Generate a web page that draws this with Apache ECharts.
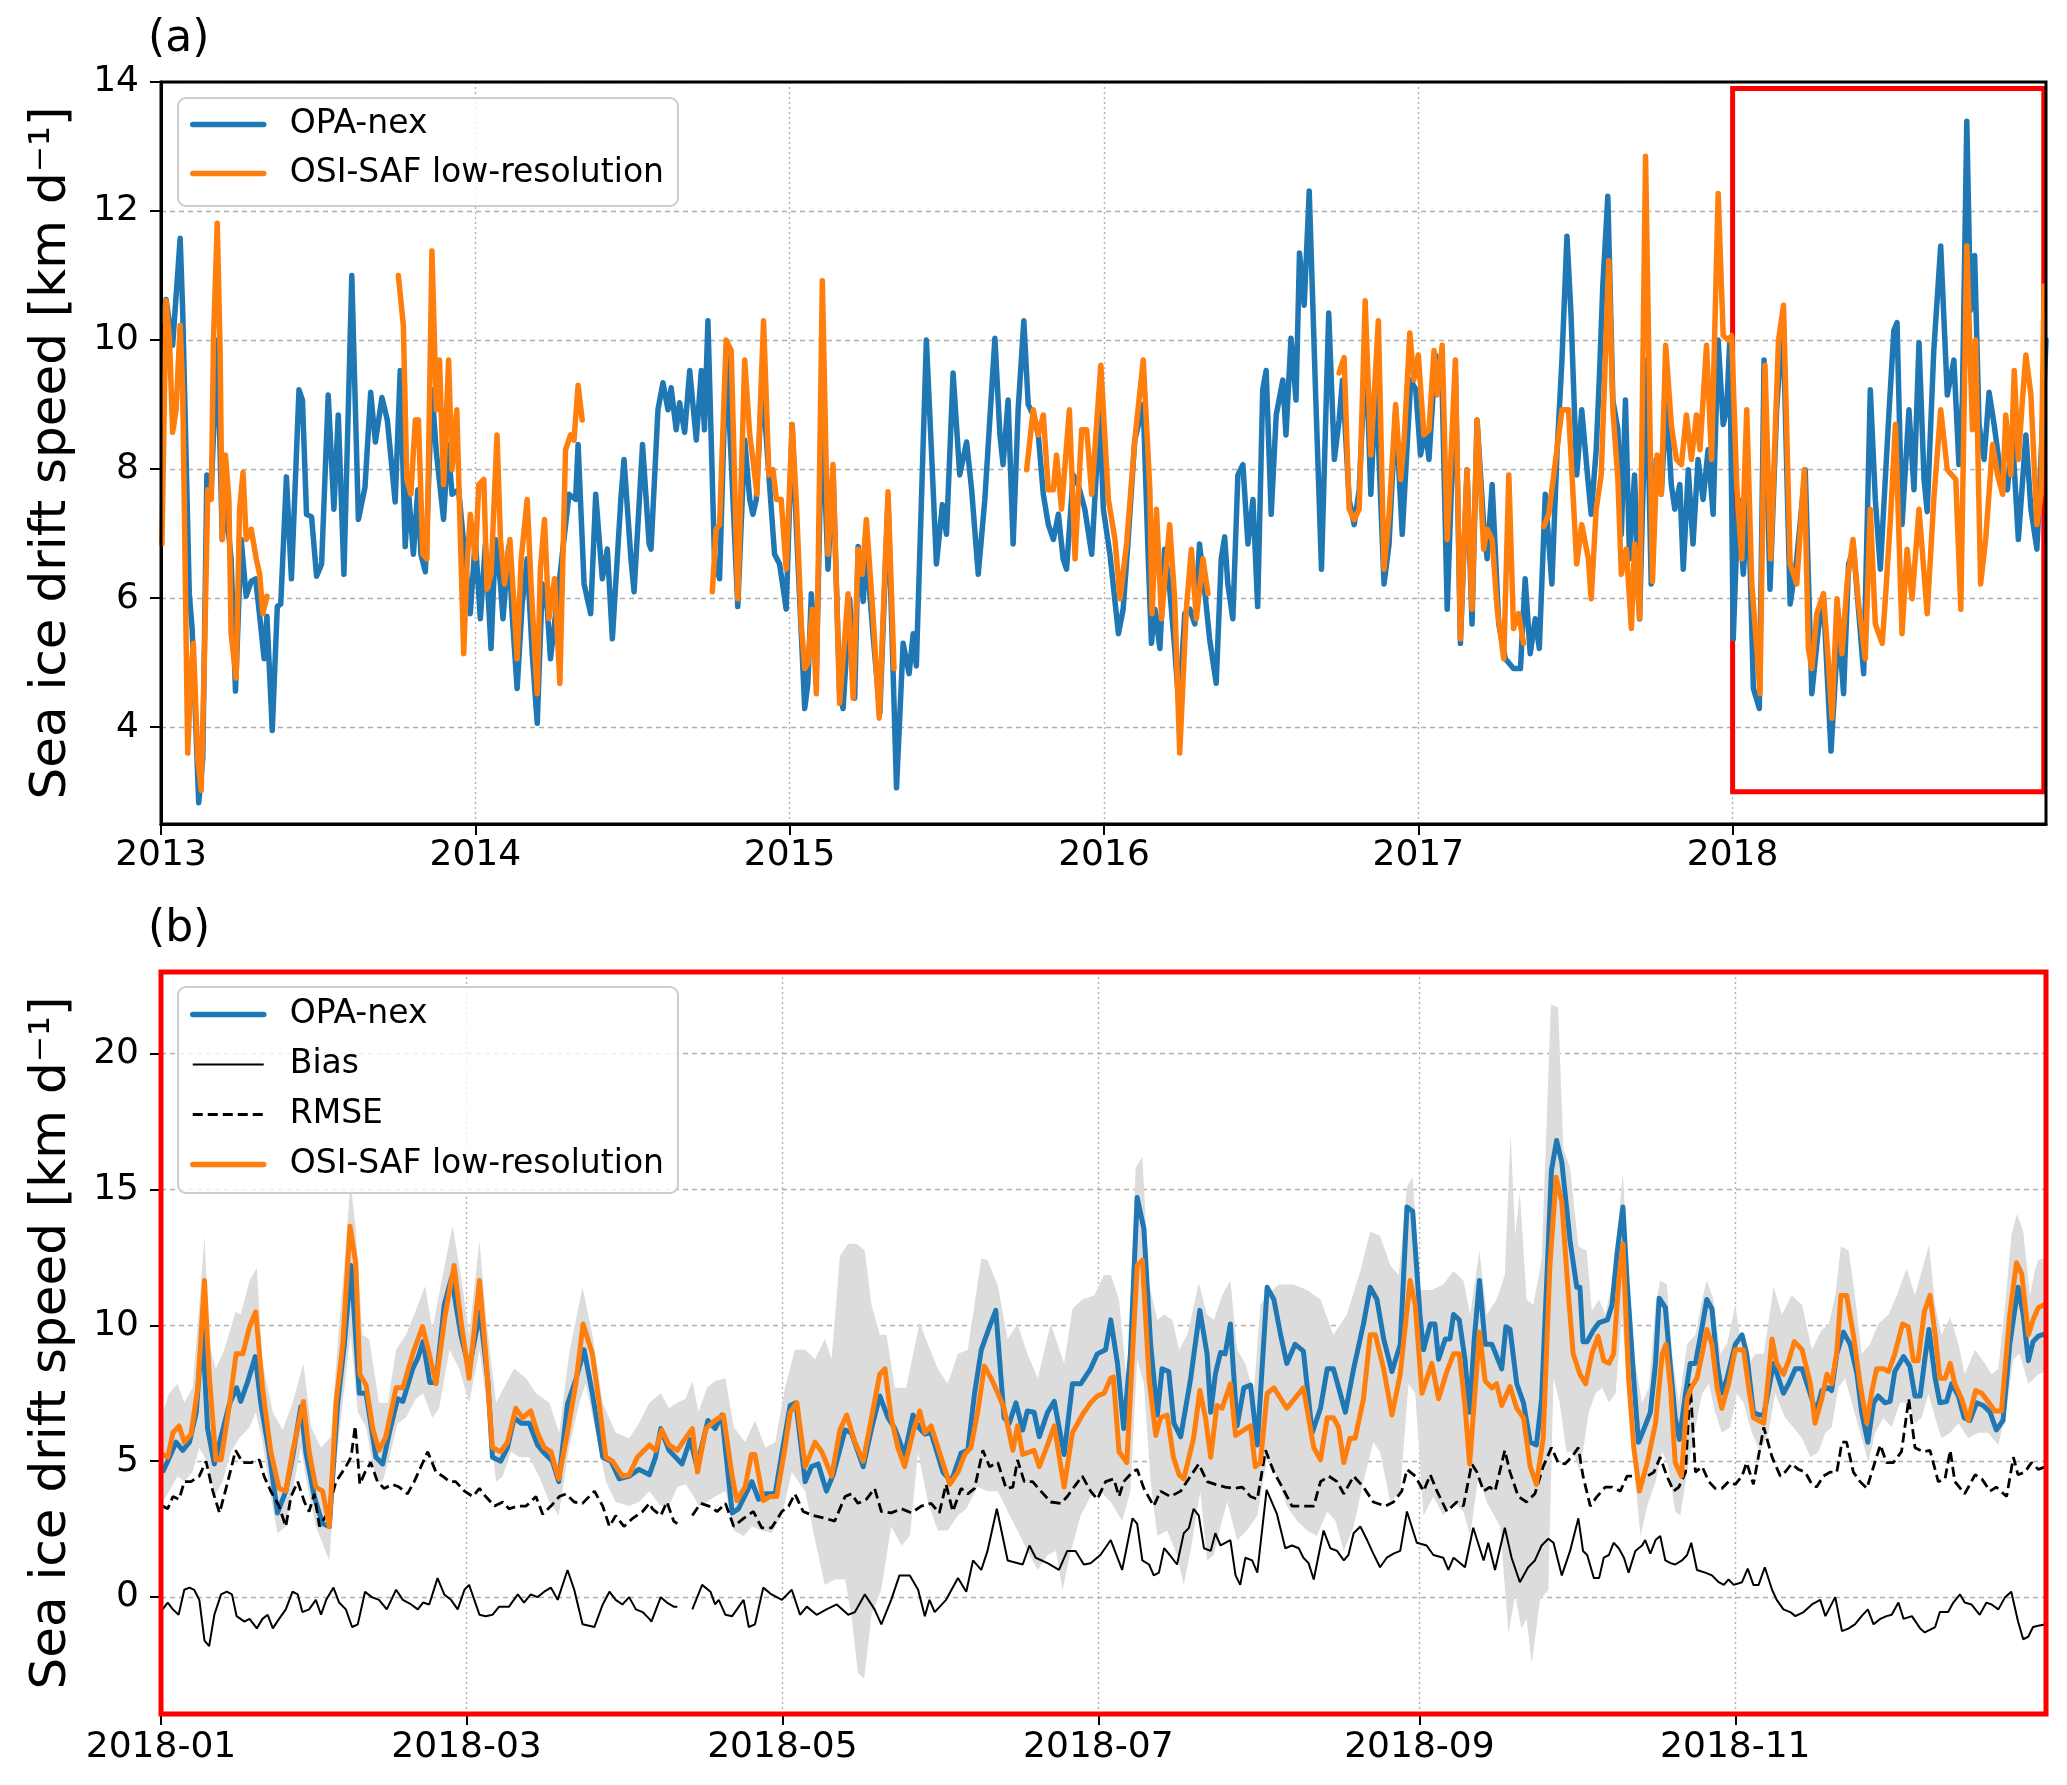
<!DOCTYPE html>
<html>
<head>
<meta charset="utf-8">
<script src="https://cdn.jsdelivr.net/npm/echarts@6/dist/echarts.min.js"></script>
<style>
  html, body { margin: 0; padding: 0; background: #fff; }
  #chart { width: 2067px; height: 1785px; }
</style>
</head>
<body>
<div id="chart"></div>
<script>
// ---------- panel (a): 2013-2018, x = decimal year ----------
const yearTicks = [2013, 2014, 2015, 2016, 2017, 2018];
const speedTicksA = [4, 6, 8, 10, 12, 14];

// OPA-nex, smoothed (a)
const opaA = [
  [2013.005,10.3],[2013.016,10.63],[2013.037,9.92],[2013.061,11.58],[2013.069,10.46],[2013.090,6.07],[2013.099,5.53],[2013.120,2.83],[2013.133,3.52],[2013.146,7.91],
  [2013.160,7.68],[2013.179,10.0],[2013.195,6.91],[2013.205,7.53],[2013.223,6.61],[2013.237,4.56],[2013.255,6.91],[2013.271,6.03],[2013.287,6.26],[2013.301,6.30],
  [2013.314,5.72],[2013.328,5.06],[2013.337,5.72],[2013.354,3.95],[2013.370,5.87],[2013.381,5.91],[2013.399,7.88],[2013.415,6.30],[2013.439,9.23],[2013.450,9.07],
  [2013.463,7.30],[2013.479,7.26],[2013.495,6.34],[2013.511,6.53],[2013.532,9.15],[2013.550,7.38],[2013.564,8.84],[2013.582,6.37],[2013.607,11.0],[2013.628,7.22],
  [2013.649,7.72],[2013.667,9.19],[2013.682,8.42],[2013.703,9.11],[2013.720,8.76],[2013.745,7.49],[2013.761,9.53],[2013.777,6.80],[2013.787,7.68],[2013.803,6.68],
  [2013.817,7.68],[2013.827,6.68],[2013.841,6.41],[2013.862,9.23],[2013.876,8.26],[2013.899,7.22],[2013.913,8.38],[2013.926,7.61],[2013.947,7.68],[2013.984,5.76],
  [2014.000,6.91],[2014.016,5.68],[2014.032,6.84],[2014.050,5.22],[2014.064,6.91],[2014.080,6.22],[2014.088,5.68],[2014.106,6.80],[2014.117,5.76],[2014.133,4.60],
  [2014.149,5.91],[2014.165,6.61],[2014.181,5.14],[2014.197,4.06],[2014.213,6.22],[2014.229,5.83],[2014.239,5.06],[2014.261,5.99],[2014.298,7.61],[2014.319,7.53],
  [2014.327,8.38],[2014.346,6.22],[2014.367,5.76],[2014.383,7.61],[2014.404,6.30],[2014.420,6.76],[2014.436,5.37],[2014.463,7.53],[2014.473,8.15],[2014.495,6.61],
  [2014.505,6.10],[2014.532,8.38],[2014.553,6.84],[2014.559,6.76],[2014.581,8.92],[2014.597,9.34],[2014.613,8.92],[2014.623,9.26],[2014.639,8.61],[2014.650,9.03],
  [2014.666,8.57],[2014.682,9.53],[2014.703,8.45],[2014.719,9.53],[2014.729,8.61],[2014.740,10.30],[2014.761,6.61],[2014.777,6.30],[2014.798,9.77],[2014.814,8.15],
  [2014.835,5.87],[2014.857,8.45],[2014.873,7.53],[2014.883,7.30],[2014.894,7.53],[2014.913,9.38],[2014.936,7.76],[2014.952,6.68],[2014.968,6.53],[2014.989,5.83],
  [2015.008,8.69],[2015.021,7.14],[2015.037,5.45],[2015.048,4.29],[2015.058,4.68],[2015.069,6.07],[2015.085,4.83],[2015.103,8.92],[2015.122,6.45],[2015.138,7.99],
  [2015.159,4.52],[2015.170,4.29],[2015.191,5.99],[2015.207,4.45],[2015.218,6.80],[2015.234,5.95],[2015.244,6.76],[2015.265,5.45],[2015.287,4.22],[2015.313,7.53],
  [2015.340,3.06],[2015.361,5.30],[2015.380,4.83],[2015.393,5.45],[2015.403,4.95],[2015.435,10.0],[2015.451,8.30],[2015.467,6.53],[2015.486,7.45],[2015.499,6.99],
  [2015.520,9.49],[2015.541,7.91],[2015.563,8.42],[2015.579,7.68],[2015.600,6.37],[2015.621,7.53],[2015.653,10.03],[2015.669,8.53],[2015.679,8.07],[2015.695,9.07],
  [2015.711,6.84],[2015.727,8.92],[2015.745,10.30],[2015.759,9.0],[2015.775,8.84],[2015.791,8.53],[2015.807,7.61],[2015.823,7.14],[2015.839,6.91],[2015.855,7.30],
  [2015.870,6.61],[2015.881,6.45],[2015.902,7.91],[2015.918,7.76],[2015.939,7.38],[2015.961,6.68],[2015.987,8.92],[2015.998,7.38],[2016.019,6.68],[2016.046,5.45],
  [2016.061,5.83],[2016.077,6.91],[2016.098,8.45],[2016.125,9.0],[2016.141,6.61],[2016.151,5.30],[2016.162,5.83],[2016.178,5.22],[2016.193,6.76],[2016.209,6.14],
  [2016.225,5.22],[2016.239,4.29],[2016.257,5.76],[2016.273,5.83],[2016.289,5.60],[2016.304,6.84],[2016.320,6.14],[2016.336,5.37],[2016.357,4.68],[2016.373,6.61],
  [2016.384,6.95],[2016.394,6.22],[2016.410,5.68],[2016.426,7.91],[2016.442,8.07],[2016.458,6.84],[2016.474,7.53],[2016.489,5.87],[2016.505,9.23],[2016.516,9.53],
  [2016.532,7.30],[2016.548,8.84],[2016.569,9.38],[2016.579,8.53],[2016.595,10.03],[2016.611,9.07],[2016.622,11.35],[2016.637,10.54],[2016.653,12.31],[2016.674,9.07],
  [2016.692,6.45],[2016.715,10.42],[2016.733,8.15],[2016.748,8.76],[2016.759,9.38],[2016.780,7.53],[2016.796,7.14],[2016.812,7.68],[2016.833,9.92],[2016.849,7.61],
  [2016.865,9.38],[2016.891,6.22],[2016.907,6.84],[2016.928,8.92],[2016.949,6.99],[2016.976,9.38],[2016.992,9.23],[2017.007,8.22],[2017.023,8.61],[2017.034,8.15],
  [2017.055,9.77],[2017.076,9.23],[2017.092,5.83],[2017.118,9.53],[2017.134,5.30],[2017.155,7.99],[2017.171,5.60],[2017.187,8.76],[2017.208,7.14],[2017.219,6.61],
  [2017.235,7.76],[2017.256,5.60],[2017.277,5.06],[2017.303,4.91],[2017.325,4.91],[2017.340,6.30],[2017.356,5.14],[2017.372,5.68],[2017.385,5.22],[2017.404,7.61],
  [2017.425,6.22],[2017.441,8.22],[2017.457,9.69],[2017.473,11.61],[2017.486,10.38],[2017.504,7.91],[2017.520,8.92],[2017.541,7.76],[2017.550,7.30],[2017.566,8.30],
  [2017.577,9.53],[2017.587,10.84],[2017.603,12.23],[2017.619,9.07],[2017.635,8.61],[2017.646,6.99],[2017.659,9.07],[2017.672,6.61],[2017.688,7.91],[2017.704,5.68],
  [2017.726,9.69],[2017.741,6.22],[2017.757,8.15],[2017.773,7.61],[2017.789,9.07],[2017.805,7.76],[2017.816,7.38],[2017.832,7.76],[2017.843,6.45],[2017.859,7.99],
  [2017.874,6.84],[2017.890,8.15],[2017.906,7.53],[2017.922,8.30],[2017.938,7.30],[2017.954,10.0],[2017.970,8.69],[2017.981,8.92],[2017.991,10.0],[2018.002,5.37],
  [2018.018,7.53],[2018.034,6.37],[2018.050,7.53],[2018.066,4.60],[2018.085,4.29],[2018.100,9.69],[2018.119,6.14],[2018.140,8.92],[2018.160,10.38],[2018.183,5.91],
  [2018.204,6.61],[2018.231,7.99],[2018.252,4.52],[2018.273,5.53],[2018.289,5.99],[2018.313,3.63],[2018.337,5.60],[2018.353,4.52],[2018.369,6.53],[2018.385,6.76],
  [2018.417,4.83],[2018.438,9.23],[2018.454,7.53],[2018.470,6.45],[2018.497,8.84],[2018.513,10.15],[2018.523,10.27],[2018.539,7.14],[2018.561,8.92],[2018.577,7.68],
  [2018.593,9.96],[2018.609,7.84],[2018.619,7.34],[2018.640,9.84],[2018.662,11.46],[2018.683,9.15],[2018.704,9.69],[2018.720,8.07],[2018.731,9.07],[2018.745,13.39],
  [2018.757,10.46],[2018.770,11.31],[2018.784,8.69],[2018.800,8.15],[2018.816,9.19],[2018.832,8.69],[2018.853,7.91],[2018.874,7.68],[2018.890,8.53],[2018.909,6.91],
  [2018.933,8.53],[2018.949,7.38],[2018.968,6.76],[2018.981,8.15],[2018.997,10.0]
];

// OSI-SAF low-resolution, smoothed (a); null = no observations
const osiA = [
  [2013.003,6.84],[2013.016,10.61],[2013.027,10.0],[2013.037,8.57],[2013.048,8.92],[2013.061,10.23],[2013.069,9.23],[2013.085,3.60],[2013.096,4.91],[2013.103,5.30],
  [2013.117,3.52],[2013.128,3.02],[2013.138,5.06],[2013.149,7.68],[2013.160,7.53],[2013.167,10.0],[2013.179,11.81],[2013.188,9.84],[2013.195,6.91],[2013.205,8.22],
  [2013.216,7.53],[2013.223,5.45],[2013.239,4.76],[2013.250,7.38],[2013.261,7.95],[2013.271,6.91],[2013.287,7.07],[2013.303,6.61],[2013.314,6.37],[2013.324,5.76],
  [2013.337,6.03],[2013.5,null],
  [2013.755,11.0],[2013.771,10.23],[2013.782,7.84],[2013.795,7.61],[2013.809,8.76],[2013.819,8.76],[2013.833,6.68],[2013.846,6.61],[2013.862,11.38],[2013.876,8.92],
  [2013.886,9.69],[2013.899,7.76],[2013.915,9.69],[2013.926,7.99],[2013.941,8.92],[2013.963,5.14],[2013.973,6.45],[2013.984,7.30],[2014.000,6.61],[2014.011,7.76],
  [2014.027,7.84],[2014.037,6.14],[2014.050,6.37],[2014.069,8.53],[2014.080,6.91],[2014.093,6.22],[2014.110,6.91],[2014.122,5.99],[2014.133,5.06],[2014.146,6.61],
  [2014.165,7.53],[2014.178,6.14],[2014.197,4.52],[2014.207,6.45],[2014.220,7.22],[2014.234,5.68],[2014.252,6.30],[2014.269,4.68],[2014.287,8.30],[2014.303,8.53],
  [2014.314,8.45],[2014.327,9.30],[2014.340,8.76],[2014.5,null],
  [2014.754,6.10],[2014.766,7.07],[2014.777,7.14],[2014.798,10.0],[2014.814,9.84],[2014.835,5.99],[2014.857,9.69],[2014.873,8.53],[2014.883,8.15],[2014.896,7.61],
  [2014.917,10.30],[2014.934,7.91],[2014.947,7.99],[2014.958,7.53],[2014.973,7.53],[2014.989,6.45],[2015.008,8.69],[2015.021,7.53],[2015.037,5.60],[2015.048,4.91],
  [2015.058,4.99],[2015.072,5.83],[2015.085,4.52],[2015.104,10.92],[2015.122,6.68],[2015.138,8.07],[2015.159,4.37],[2015.186,6.07],[2015.202,4.45],[2015.218,6.76],
  [2015.231,6.37],[2015.244,7.22],[2015.265,5.76],[2015.285,4.14],[2015.313,7.65],[2015.332,4.91],[2015.5,null],
  [2015.754,7.99],[2015.775,8.92],[2015.791,8.53],[2015.807,8.84],[2015.823,7.68],[2015.839,7.68],[2015.849,8.22],[2015.865,7.38],[2015.890,8.92],[2015.908,6.61],
  [2015.929,8.61],[2015.945,8.61],[2015.961,7.61],[2015.990,9.61],[2016.014,7.53],[2016.035,6.91],[2016.051,5.99],[2016.072,6.84],[2016.098,8.45],[2016.125,9.69],
  [2016.146,7.68],[2016.153,5.76],[2016.167,7.38],[2016.183,5.68],[2016.209,7.14],[2016.225,5.99],[2016.241,3.60],[2016.262,5.83],[2016.278,6.76],[2016.294,5.68],
  [2016.315,6.61],[2016.331,6.07],[2016.5,null],
  [2016.748,9.49],[2016.764,9.73],[2016.780,7.38],[2016.796,7.22],[2016.812,7.38],[2016.831,10.61],[2016.849,8.22],[2016.873,10.30],[2016.891,6.45],[2016.907,7.30],
  [2016.928,9.0],[2016.944,7.84],[2016.955,8.45],[2016.973,10.11],[2016.986,9.38],[2017.000,9.77],[2017.018,8.53],[2017.034,8.61],[2017.050,9.84],[2017.060,9.15],
  [2017.076,9.92],[2017.092,6.91],[2017.118,9.69],[2017.134,5.37],[2017.155,7.99],[2017.171,5.83],[2017.187,8.76],[2017.208,6.76],[2017.219,7.07],[2017.235,6.91],
  [2017.251,5.83],[2017.272,5.06],[2017.288,7.91],[2017.303,5.53],[2017.319,5.76],[2017.335,5.30],[2017.36,null],
  [2017.399,7.11],[2017.415,7.30],[2017.457,8.92],[2017.478,8.92],[2017.504,6.53],[2017.520,7.14],[2017.541,6.61],[2017.550,5.99],[2017.566,7.38],[2017.582,7.91],
  [2017.606,11.23],[2017.619,8.92],[2017.635,7.84],[2017.646,6.37],[2017.662,6.76],[2017.678,5.53],[2017.688,6.84],[2017.704,5.68],[2017.723,12.85],[2017.745,6.26],
  [2017.760,8.22],[2017.773,7.61],[2017.787,9.92],[2017.805,8.69],[2017.821,8.15],[2017.837,8.07],[2017.853,8.84],[2017.869,8.15],[2017.885,8.84],[2017.896,8.30],
  [2017.917,9.92],[2017.933,8.15],[2017.954,12.27],[2017.970,10.07],[2017.986,10.0],[2017.997,10.07],[2018.013,7.76],[2018.029,6.61],[2018.045,8.92],[2018.061,6.22],
  [2018.077,5.22],[2018.087,4.52],[2018.103,9.61],[2018.121,6.61],[2018.146,10.0],[2018.162,10.54],[2018.183,6.53],[2018.204,6.22],[2018.228,7.99],[2018.241,5.22],
  [2018.252,4.91],[2018.268,5.76],[2018.289,6.07],[2018.305,4.99],[2018.316,4.14],[2018.332,5.99],[2018.348,5.14],[2018.364,6.22],[2018.383,6.91],[2018.399,5.99],
  [2018.422,5.06],[2018.438,7.38],[2018.454,5.60],[2018.476,5.30],[2018.486,5.99],[2018.502,7.22],[2018.518,8.69],[2018.539,5.45],[2018.555,6.76],[2018.571,5.99],
  [2018.593,7.38],[2018.619,5.76],[2018.640,7.53],[2018.662,8.92],[2018.683,7.99],[2018.710,7.84],[2018.726,5.83],[2018.745,11.46],[2018.763,8.61],[2018.773,10.0],
  [2018.789,6.22],[2018.805,6.91],[2018.827,8.38],[2018.843,7.91],[2018.859,7.61],[2018.869,8.84],[2018.885,7.91],[2018.896,9.53],[2018.909,8.15],[2018.922,9.07],
  [2018.933,9.77],[2018.949,9.15],[2018.968,7.14],[2018.981,7.61],[2018.991,10.84]
];

// zoomed window of panel (b), outlined in (a)
const zoomYears = [2018.0, 2018.99];
const zoomSpeeds = [3.0, 13.9];

// ---------- panel (b): 2018, x = day of year (0 = 1 Jan) ----------
const monthTickDays = [0, 59, 120, 181, 243, 304];
const monthTickLabels = ['2018-01', '2018-03', '2018-05', '2018-07', '2018-09', '2018-11'];
const speedTicksB = [0, 5, 10, 15, 20];

const opaB = [
  [0.3,4.6],[1.3,5.0],[2.9,5.7],[4.2,5.4],[5.5,5.7],[6.8,6.8],[8.0,9.85],[9.0,6.2],[10.3,4.9],[11.6,5.9],[13.2,7.1],[14.6,7.7],[15.4,7.2],[16.7,7.9],[18.2,8.85],
  [19.3,7.1],[20.9,5.3],[22.5,3.1],[24.1,3.9],[25.4,5.15],[27.0,7.0],[28.0,5.3],[29.6,3.7],[31.2,2.7],[32.5,2.6],[34.1,7.1],[35.4,9.3],[36.7,12.2],[38.3,7.5],
  [39.6,7.5],[41.5,5.15],[42.8,4.9],[44.1,6.05],[45.7,7.3],[46.7,7.2],[48.6,8.4],[49.6,8.8],[50.6,9.4],[51.9,7.9],[53.1,7.9],[54.7,10.75],[56.1,11.75],[57.9,9.65],
  [59.5,8.4],[61.6,10.5],[63.1,8.0],[64.0,5.15],[65.6,5.0],[66.9,5.5],[68.2,6.6],[69.5,6.4],[71.1,6.4],[72.7,5.6],[74.0,5.3],[75.6,5.0],[76.8,4.25],[78.5,7.1],
  [80.1,8.0],[81.7,9.1],[83.3,7.5],[85.3,5.15],[86.9,5.0],[88.5,4.35],[90.4,4.45],[92.3,4.7],[94.3,4.5],[95.5,5.15],[96.5,6.2],[98.1,5.4],[100.6,4.9],[102.2,5.8],
  [103.5,4.8],[105.6,6.5],[107.0,6.2],[108.3,6.7],[110.3,3.1],[111.5,3.25],[114.1,4.25],[115.4,3.6],[116.7,3.8],[118.6,3.8],[119.9,5.3],[121.5,7.05],[122.6,7.15],
  [124.4,4.25],[125.6,4.8],[126.9,4.9],[128.5,3.9],[129.8,4.5],[132.1,6.15],[133.3,6.05],[135.6,4.8],[137.2,6.2],[138.8,7.4],[140.4,6.6],[141.7,6.2],[143.6,5.25],
  [145.2,6.7],[146.5,6.2],[147.5,6.0],[148.7,6.05],[151.0,4.6],[152.6,4.25],[154.5,5.3],[155.8,5.4],[157.1,7.5],[158.4,9.1],[160.0,9.95],[161.2,10.55],[162.8,6.6],
  [163.8,6.4],[165.1,7.15],[166.4,6.15],[167.3,6.85],[168.6,6.8],[169.6,5.9],[171.2,6.8],[172.5,7.2],[174.4,5.25],[176.0,7.85],[177.6,7.85],[179.5,8.4],[180.8,8.95],
  [182.4,9.1],[183.4,10.2],[184.7,8.6],[185.9,6.2],[187.2,8.95],[188.5,14.7],[189.8,13.55],[191.1,9.3],[192.4,6.7],[193.3,8.4],[194.6,8.3],[195.6,6.4],[196.9,5.9],
  [198.8,8.0],[200.6,10.55],[202.0,8.95],[202.7,6.8],[203.6,8.2],[204.6,9.0],[205.5,8.95],[206.5,10.05],[207.8,6.3],[209.1,7.7],[210.4,7.8],[211.7,5.6],[213.6,11.4],
  [214.9,10.95],[216.2,9.65],[217.4,8.6],[219.0,9.3],[220.6,9.05],[222.3,6.05],[223.9,6.95],[225.2,8.4],[226.4,8.4],[227.7,7.5],[228.7,6.8],[230.3,8.4],[232.2,10.05],
  [233.5,11.4],[234.8,10.95],[236.1,9.5],[237.7,8.3],[239.3,9.3],[240.6,14.35],[241.7,14.2],[243.1,10.4],[243.8,9.1],[245.1,10.05],[246.0,10.05],[246.7,8.75],
  [248.0,9.5],[248.9,9.5],[249.6,10.4],[250.7,10.2],[251.8,8.75],[252.7,6.8],[253.6,9.5],[254.6,11.65],[255.7,9.3],[257.0,9.3],[258.9,8.4],[259.7,9.95],[260.5,9.85],
  [261.8,7.85],[263.1,7.15],[264.4,5.7],[265.6,5.6],[266.6,7.3],[267.6,11.65],[268.5,15.7],[269.5,16.8],[270.5,16.0],[272.1,13.1],[273.4,11.4],[274.0,11.4],
  [274.6,9.4],[275.4,9.4],[276.7,9.85],[277.7,10.1],[279.3,10.2],[280.2,10.75],[281.2,12.7],[282.3,14.35],[283.1,11.65],[284.4,8.0],[285.3,5.7],[286.6,6.3],
  [287.6,6.8],[288.6,8.6],[289.3,11.0],[290.5,10.65],[291.5,8.4],[292.4,6.6],[293.2,5.8],[294.4,7.5],[295.3,8.6],[296.3,8.6],[297.6,9.95],[298.5,10.95],[299.5,10.6],
  [300.5,8.6],[301.4,7.5],[302.4,8.05],[304.0,9.3],[305.3,9.65],[306.2,8.95],[307.5,6.8],[308.6,6.7],[309.5,6.7],[311.4,8.6],[313.3,7.5],[314.3,7.85],[315.6,8.4],
  [316.9,8.4],[318.1,7.7],[319.6,6.8],[320.7,7.6],[321.9,7.7],[322.6,7.6],[323.6,8.95],[324.9,9.75],[326.2,9.3],[327.5,8.2],[328.4,6.8],[329.6,5.7],[330.7,7.15],
  [331.6,7.4],[332.9,7.15],[333.9,7.2],[334.8,8.3],[336.5,8.85],[337.7,8.5],[338.7,7.4],[339.7,7.4],[340.6,8.75],[341.4,9.85],[342.6,8.05],[343.5,7.15],[344.8,7.2],
  [345.8,7.85],[347.1,7.4],[348.2,6.6],[349.3,6.5],[350.6,7.15],[351.9,7.05],[353.2,6.8],[354.4,6.15],[355.7,6.5],[357.0,9.3],[358.6,11.4],[359.6,10.4],[360.6,8.7],
  [361.5,9.4],[362.5,9.6],[364,9.7]
];

const osiB = [
  [0.3,5.25],[1.3,5.15],[2.3,6.05],[3.5,6.3],[4.5,5.7],[5.8,6.0],[7.1,7.7],[8.4,11.65],[9.3,8.2],[10.6,5.05],[11.6,5.05],[13.2,7.05],[14.5,8.95],[15.8,8.95],
  [17.1,9.95],[18.3,10.5],[19.6,7.7],[21.2,5.35],[22.8,4.0],[24.1,3.9],[25.4,5.35],[27.5,7.2],[28.6,5.35],[29.9,4.05],[31.2,3.9],[32.5,2.6],[33.8,7.15],[35.1,9.3],
  [36.5,13.65],[37.6,12.3],[38.4,8.2],[39.6,7.8],[40.9,6.2],[42.1,5.4],[43.4,5.9],[45.4,7.7],[46.7,7.7],[48.6,8.95],[50.5,9.95],[51.8,8.95],[53.1,7.85],[54.9,10.4],
  [56.6,12.2],[57.9,10.2],[59.5,8.05],[61.5,11.65],[62.7,8.95],[64.0,5.5],[65.6,5.35],[66.9,5.7],[68.5,6.95],[69.8,6.6],[71.4,6.85],[72.7,6.05],[74.0,5.5],
  [75.3,5.35],[76.8,4.35],[78.5,6.05],[80.1,7.85],[81.5,10.05],[83.3,8.95],[84.6,7.15],[85.9,5.15],[87.2,5.0],[89.1,4.45],[90.4,4.5],[92.0,5.15],[94.3,5.6],
  [95.5,5.4],[96.7,6.15],[98.1,5.6],[99.7,5.4],[101.3,5.85],[102.6,6.2],[103.6,4.6],[105.2,6.2],[107.0,6.5],[108.6,6.7],[110.3,4.45],[111.2,3.55],[112.8,4.05],
  [114.0,5.25],[114.7,5.25],[116.3,3.55],[117.6,3.7],[118.9,3.7],[120.5,5.5],[121.5,6.8],[122.8,7.15],[124.4,4.8],[126.3,5.7],[127.6,5.35],[129.5,4.45],[131.1,6.15],
  [132.4,6.7],[134.0,5.7],[135.6,5.0],[137.2,6.6],[138.8,8.2],[139.8,8.4],[141.0,6.6],[142.3,5.5],[143.6,4.8],[145.2,6.05],[146.5,6.85],[147.5,6.05],[148.7,6.3],
  [150.3,5.35],[152.3,4.15],[153.9,4.6],[155.2,5.25],[156.4,5.5],[157.7,6.8],[159.0,8.5],[160.3,8.05],[161.6,7.5],[162.8,6.95],[164.5,5.4],[165.4,6.3],[166.4,5.25],
  [168.6,5.4],[169.6,4.8],[171.2,5.6],[172.5,6.3],[174.4,4.05],[176.0,6.05],[177.9,6.7],[179.5,7.15],[180.8,7.4],[182.1,7.5],[183.4,8.05],[183.9,8.1],[185.0,5.35],
  [186.5,4.95],[188.5,12.2],[189.5,12.4],[190.8,8.05],[192.1,5.95],[193.0,6.6],[194.3,6.7],[195.5,5.15],[196.6,4.5],[197.5,4.35],[199.4,5.85],[200.6,7.6],[201.7,6.6],
  [202.7,5.15],[203.9,7.05],[204.9,6.95],[206.5,7.85],[207.5,5.95],[209.1,6.15],[210.4,6.3],[211.3,4.8],[212.3,4.95],[213.6,7.5],[214.9,7.7],[217.4,6.95],[220.6,7.7],
  [222.6,5.5],[223.9,5.05],[225.2,6.6],[226.4,6.6],[227.4,6.25],[228.4,4.95],[229.6,5.85],[230.6,5.85],[232.2,7.3],[233.5,9.65],[234.5,9.65],[236.1,8.4],[237.7,6.7],
  [239.3,8.2],[241.2,11.65],[242.2,10.75],[243.5,7.5],[245.4,8.6],[246.7,7.3],[248.3,8.3],[249.6,8.95],[250.7,8.95],[251.8,7.05],[252.7,4.9],[254.6,9.75],[255.7,7.95],
  [257.0,7.7],[257.9,7.85],[258.9,7.05],[260.5,7.75],[261.8,6.95],[263.1,6.6],[264.4,4.8],[265.6,4.15],[266.9,5.85],[268.2,12.2],[269.4,15.45],[270.5,14.55],
  [271.7,11.3],[272.7,8.95],[274.0,8.2],[275.1,7.85],[276.3,8.95],[277.5,9.6],[278.6,8.7],[279.6,8.6],[280.5,8.95],[281.5,11.65],[282.3,13.0],[283.4,8.05],[284.4,5.5],
  [285.5,3.9],[287.0,4.95],[288.6,6.4],[289.9,8.95],[290.6,9.3],[291.5,7.7],[292.4,4.95],[293.6,4.45],[294.7,7.3],[295.6,7.75],[296.6,8.05],[297.6,8.95],[298.5,9.85],
  [299.5,9.3],[300.5,7.7],[301.4,6.95],[302.7,7.85],[304.0,9.1],[305.6,9.1],[306.6,7.7],[307.5,6.6],[309.5,6.4],[311.1,9.5],[312.0,8.6],[313.3,8.2],[314.3,8.7],
  [315.4,9.4],[316.9,9.1],[318.5,7.85],[319.4,6.4],[320.7,7.3],[321.7,8.2],[322.6,7.85],[323.6,9.0],[324.4,11.1],[325.5,11.1],[326.8,9.65],[328.1,7.85],[329.4,6.4],
  [330.3,7.5],[331.3,8.4],[332.6,8.4],[333.6,8.3],[334.8,8.95],[336.3,10.05],[337.4,9.95],[338.4,8.7],[339.3,8.7],[340.5,10.5],[341.6,11.1],[342.6,9.65],[343.5,8.05],
  [344.5,8.05],[345.5,8.6],[346.4,7.85],[347.7,7.3],[349.0,6.5],[350.4,7.6],[351.6,7.5],[352.8,7.2],[354.1,6.85],[355.4,6.85],[357.0,10.4],[358.3,12.3],[359.3,11.9],
  [360.6,9.65],[361.5,10.2],[362.5,10.65],[364,10.8]
];

// spread of the OPA-nex ensemble (grey band)
const bandHighB = [
  [0.3,6.8],[1.6,7.5],[3.2,7.85],[4.5,7.15],[6.1,7.7],[7.4,10.75],[8.4,13.3],[9.3,9.3],[10.6,8.4],[12.2,9.1],[14.4,10.5],[15.4,10.4],[17.1,11.65],[18.5,12.1],
  [19.6,8.6],[21.6,6.8],[23.5,6.15],[25.4,7.15],[27.5,8.6],[29.0,6.25],[30.9,5.5],[32.8,5.9],[34.4,10.05],[35.4,12.2],[36.6,15.3],[37.6,13.55],[38.9,9.65],[40.2,9.5],
  [42.1,7.15],[43.8,7.15],[45.4,9.1],[47.3,9.65],[49.2,10.55],[51.0,11.45],[52.4,9.85],[54.4,11.85],[56.3,13.65],[57.9,11.85],[59.5,9.65],[61.5,13.1],[62.7,10.4],
  [64.7,7.15],[66.6,7.85],[68.2,8.4],[70.5,8.05],[72.4,7.5],[75.0,7.15],[76.9,6.05],[78.8,8.95],[81.4,11.4],[83.3,9.65],[85.3,7.15],[87.8,6.05],[90.4,5.85],
  [92.3,6.4],[94.3,7.15],[96.5,7.5],[98.1,6.95],[99.7,7.15],[101.3,7.3],[102.6,7.95],[103.8,6.8],[105.4,7.7],[107.0,7.95],[109.0,8.05],[110.6,6.25],[112.8,5.7],
  [114.7,6.5],[116.7,5.5],[118.6,5.7],[120.5,7.7],[122.4,9.1],[124.4,9.1],[126.3,8.75],[128.2,9.5],[129.5,8.75],[131.1,12.55],[132.7,13.0],[134.3,13.0],[135.9,12.75],
  [137.2,10.75],[138.8,9.65],[140.1,9.65],[141.7,7.7],[143.9,7.7],[146.5,10.1],[148.1,9.3],[150.0,8.4],[151.9,7.85],[153.9,8.95],[155.8,9.1],[158.4,12.45],[159.6,12.4],
  [161.6,11.45],[163.5,9.5],[165.4,10.05],[167.3,8.95],[169.3,8.05],[171.8,10.05],[174.4,8.6],[176.0,10.6],[177.9,10.95],[180.2,11.1],[182.1,11.85],[183.4,11.85],
  [185.0,10.95],[186.6,7.7],[188.2,15.8],[189.5,16.2],[190.8,11.5],[192.4,10.2],[193.7,10.4],[195.3,10.2],[196.6,9.1],[198.2,9.65],[200.4,11.55],[202.0,10.4],
  [203.3,10.2],[204.9,11.1],[206.5,11.65],[207.8,9.1],[209.4,8.6],[211.0,7.5],[212.3,10.75],[213.6,11.1],[215.8,11.5],[218.7,11.5],[221.3,11.3],[223.9,10.95],
  [226.4,9.65],[229.0,10.4],[231.6,12.0],[233.5,13.45],[235.4,13.3],[237.4,12.2],[239.0,11.85],[240.6,15.1],[241.7,15.45],[243.1,11.3],[245.4,11.3],[247.6,11.5],
  [249.6,12.0],[251.5,11.65],[252.8,10.4],[254.6,12.75],[256.0,10.4],[257.9,10.95],[259.5,11.85],[260.6,17.05],[261.5,13.3],[262.4,14.9],[263.7,10.95],[265.0,10.75],
  [266.6,12.4],[268.4,21.8],[269.8,21.7],[270.8,16.5],[272.1,15.8],[273.7,12.9],[275.3,12.75],[276.3,10.55],[277.7,10.95],[278.9,10.4],[280.2,11.5],[281.5,14.0],
  [282.3,15.6],[283.4,11.65],[284.7,8.6],[286.0,7.15],[287.3,7.7],[288.6,10.75],[289.5,11.65],[290.8,11.5],[291.8,8.95],[293.1,7.15],[294.7,9.3],[296.3,9.65],
  [297.6,10.95],[298.5,11.65],[299.8,10.95],[301.1,8.95],[302.4,9.3],[304.0,10.75],[305.3,9.1],[306.6,8.6],[307.9,8.95],[309.5,8.95],[311.4,11.4],[313.0,10.4],
  [314.9,11.1],[316.9,10.75],[318.8,9.1],[320.7,9.85],[322.0,10.0],[323.3,11.1],[324.4,12.9],[325.9,12.75],[327.1,11.1],[328.4,8.95],[330.0,9.3],[331.6,10.05],
  [333.6,10.4],[335.2,11.1],[337.1,12.1],[338.7,11.1],[340.0,12.0],[341.4,12.95],[342.6,10.75],[343.8,9.65],[345.5,10.3],[347.1,9.3],[348.3,8.2],[350.3,9.1],
  [352.2,8.6],[353.5,8.2],[354.8,8.4],[356.1,10.75],[357.3,13.3],[358.4,14.1],[359.6,13.45],[360.9,11.1],[361.8,12.0],[362.5,12.4],[364,12.5]
];

const bandLowB = [
  [0.3,3.5],[1.6,3.9],[3.2,4.45],[4.5,4.25],[6.1,4.6],[7.4,5.5],[9.0,4.95],[10.3,3.7],[11.9,4.25],[13.5,5.35],[15.1,5.85],[17.1,6.25],[18.3,6.8],[19.6,5.7],
  [21.2,3.7],[22.5,2.35],[24.1,2.6],[25.4,3.9],[27.0,5.5],[28.3,4.05],[29.9,2.6],[32.5,1.35],[33.8,4.95],[35.1,7.15],[36.6,9.65],[38.0,6.8],[39.6,6.25],[41.5,4.25],
  [42.8,4.25],[44.1,5.15],[45.7,6.4],[47.3,6.6],[49.2,7.3],[50.6,7.5],[52.4,6.6],[53.7,6.95],[55.7,9.1],[57.6,8.4],[59.5,7.15],[61.5,9.1],[63.1,6.8],[64.7,4.25],
  [66.0,4.45],[67.6,5.35],[69.2,5.15],[71.1,5.15],[73.0,4.45],[75.0,3.5],[76.8,3.0],[78.8,5.5],[80.8,7.15],[82.0,7.85],[84.0,6.05],[85.9,4.25],[87.8,3.5],
  [90.4,3.35],[92.3,3.5],[94.3,3.9],[96.5,3.35],[98.1,3.35],[99.7,4.05],[101.3,4.15],[102.9,3.7],[103.8,3.35],[105.4,3.5],[107.0,3.7],[109.0,3.9],[110.6,2.45],
  [112.5,2.25],[114.1,2.6],[116.0,2.45],[117.9,2.35],[119.9,3.0],[121.8,4.6],[124.4,3.9],[126.3,2.1],[128.2,0.45],[130.1,0.65],[132.1,0.65],[133.3,-0.65],
  [134.6,-2.8],[135.8,-3.0],[137.2,-0.65],[139.1,0.27],[141.0,2.6],[143.0,1.9],[144.6,2.25],[146.2,5.35],[148.1,3.5],[150.0,2.45],[151.9,2.45],[153.9,3.0],
  [155.5,3.25],[157.7,4.05],[159.6,3.9],[161.6,3.9],[163.5,3.15],[165.4,2.45],[167.3,1.7],[169.3,1.0],[171.2,1.55],[172.8,1.7],[174.1,0.27],[175.7,1.7],[177.6,3.0],
  [179.5,3.7],[181.4,3.9],[183.4,3.5],[185.6,2.8],[187.2,3.9],[188.5,8.75],[189.8,7.85],[191.1,4.25],[192.4,2.25],[194.3,2.45],[196.2,1.55],[197.5,0.45],[198.8,1.7],
  [200.7,3.9],[202.0,1.35],[203.3,1.55],[204.6,2.6],[205.9,3.5],[207.8,2.1],[209.7,2.45],[211.7,3.0],[213.6,5.15],[215.5,4.45],[217.4,3.35],[219.4,2.8],[221.3,2.45],
  [223.2,2.25],[225.2,3.15],[226.8,2.8],[228.4,1.7],[230.3,2.6],[232.2,4.25],[234.1,5.7],[235.4,5.35],[237.4,3.5],[239.3,3.9],[240.9,7.85],[242.2,7.5],[243.8,3.0],
  [245.7,3.7],[247.6,3.0],[249.6,3.5],[251.5,3.15],[252.8,2.25],[254.4,4.45],[256.0,3.5],[258.6,2.6],[260.2,-1.35],[261.5,0.1],[262.7,-1.15],[263.7,-0.8],
  [264.7,-2.45],[266.3,-0.1],[267.9,0.27],[268.9,8.05],[270.1,7.15],[271.4,5.35],[272.7,5.35],[274.0,4.6],[275.7,6.8],[277.0,7.5],[278.3,7.7],[279.6,7.15],
  [280.9,7.5],[282.1,10.4],[283.4,7.15],[284.7,4.25],[285.7,2.25],[287.0,3.35],[288.6,4.25],[289.9,5.35],[291.1,4.8],[292.4,3.15],[293.4,3.0],[294.7,4.6],
  [296.3,6.25],[297.6,7.5],[298.9,7.85],[300.1,6.8],[301.4,6.05],[303.0,6.25],[304.3,7.5],[305.6,7.15],[307.2,6.05],[308.8,5.35],[310.4,6.05],[311.7,7.5],
  [313.6,6.6],[315.2,6.25],[316.9,5.85],[318.5,5.15],[320.1,5.35],[321.4,6.05],[322.6,6.25],[323.9,7.7],[325.2,8.05],[326.5,7.15],[328.4,5.85],[329.7,4.95],
  [331.0,6.05],[332.6,6.6],[334.2,6.25],[335.8,7.15],[337.4,7.15],[338.7,6.4],[340.0,6.6],[341.3,7.5],[342.6,6.6],[343.8,5.85],[345.5,6.05],[347.1,6.4],[349.0,5.85],
  [350.9,6.05],[352.8,6.05],[354.8,5.6],[356.4,6.95],[357.7,8.75],[358.9,8.95],[360.6,7.85],[361.8,8.05],[362.5,8.2],[364,8.3]
];

const rmseB = [
  [0.3,3.35],[1.3,3.25],[2.3,3.7],[3.5,3.6],[4.5,4.25],[5.8,4.25],[7.4,4.45],[8.7,5.0],[10.0,3.9],[11.3,3.1],[12.9,4.25],[14.4,5.4],[15.8,4.95],[17.4,4.95],
  [19.0,5.05],[19.9,4.45],[21.2,3.9],[22.8,3.35],[24.1,2.6],[25.1,3.7],[26.4,4.25],[27.7,3.5],[28.6,3.15],[29.6,3.8],[30.6,2.6],[31.9,3.0],[33.8,4.25],[35.7,4.8],
  [36.7,5.15],[37.5,6.3],[38.4,4.15],[39.4,4.6],[40.5,4.95],[41.8,4.25],[43.1,4.0],[44.7,4.15],[46.0,4.05],[47.6,3.8],[48.9,4.25],[50.2,4.8],[51.5,5.35],[53.1,4.6],
  [54.4,4.45],[55.7,4.25],[56.9,4.25],[58.6,3.9],[60.2,3.7],[61.5,4.0],[62.7,3.7],[64.4,3.35],[66.0,3.5],[67.2,3.25],[68.9,3.35],[70.5,3.35],[72.4,3.7],[73.7,3.05],
  [75.3,3.35],[76.9,3.7],[78.2,3.8],[79.8,3.5],[81.4,3.45],[83.7,3.9],[85.3,3.35],[86.6,2.6],[87.8,3.0],[89.4,2.6],[91.1,2.9],[93.0,3.15],[94.3,3.45],[94.9,3.25],
  [96.5,3.0],[97.7,3.5],[99.0,2.8],[99.7,2.7],[101,null],
  [102.6,3.0],[104.2,3.45],[105.8,3.35],[107.4,3.15],[109.0,3.45],[110.6,2.6],[112.5,2.9],[114.4,3.15],[116.0,2.55],[117.9,2.55],[119.9,3.15],[121.2,3.35],
  [122.4,3.8],[124.0,3.15],[126.0,3.0],[128.2,2.9],[130.1,2.8],[132.1,3.7],[133.3,3.8],[134.6,3.45],[136.2,3.6],[137.8,4.0],[139.1,3.15],[141.0,3.1],[143.0,3.25],
  [144.9,3.1],[146.8,3.35],[148.7,3.45],[150.3,3.1],[151.6,4.15],[152.9,3.15],[154.5,4.0],[155.8,3.8],[157.1,4.0],[158.7,5.4],[160.0,4.8],[161.6,4.95],[163.2,4.0],
  [164.5,4.05],[165.4,5.05],[166.7,4.25],[168.3,4.25],[169.9,3.9],[171.8,3.5],[173.8,3.45],[175.0,3.7],[176.3,4.05],[177.9,4.45],[179.5,3.9],[180.8,3.6],[182.4,4.25],
  [184.0,4.35],[185.0,3.7],[185.9,4.25],[187.6,4.6],[188.5,4.7],[189.8,4.0],[191.7,3.35],[193.0,3.9],[194.9,3.7],[196.9,3.9],[198.8,4.45],[200.4,4.9],[202.0,4.25],
  [203.6,4.15],[205.5,4.05],[207.2,4.0],[208.8,4.05],[210.4,3.7],[211.7,3.6],[213.3,5.4],[214.9,4.6],[216.5,4.05],[218.4,3.35],[220.6,3.35],[222.6,3.35],[223.9,4.25],
  [225.5,4.45],[227.1,4.25],[228.4,3.8],[230.3,4.45],[232.2,4.05],[234.1,3.5],[236.4,3.35],[238.0,3.5],[239.6,3.9],[240.6,4.7],[242.2,4.45],[243.8,3.9],[245.1,4.5],
  [246.4,3.9],[248.3,3.15],[250.2,3.5],[251.5,3.35],[253.1,4.9],[254.1,4.6],[255.4,3.9],[256.6,4.05],[257.6,3.9],[259.5,5.4],[260.5,4.6],[262.1,3.7],[263.7,3.5],
  [265.3,3.8],[266.9,4.8],[268.5,5.5],[269.8,4.95],[271.1,4.9],[272.4,5.15],[273.7,5.5],[274.6,4.45],[276.0,3.35],[277.3,3.7],[278.9,4.05],[280.2,4.05],[281.8,3.9],
  [283.1,4.45],[284.4,4.45],[285.7,4.25],[287.0,4.45],[288.3,4.6],[289.5,5.15],[290.8,4.45],[292.1,3.9],[293.1,4.05],[294.4,4.6],[295.3,7.85],[296.3,4.6],[297.6,4.8],
  [298.9,4.25],[300.1,4.0],[301.4,4.0],[302.7,4.25],[304.0,4.15],[305.3,4.45],[306.2,4.95],[307.5,4.15],[309.5,6.25],[311.1,5.15],[312.7,4.45],[313.6,4.6],[314.9,4.9],
  [316.2,4.7],[317.5,4.6],[318.8,4.15],[319.7,4.05],[321.0,4.45],[322.3,4.6],[323.6,4.6],[324.6,5.7],[325.5,5.7],[326.8,4.6],[328.1,4.25],[329.4,4.0],[330.7,4.8],
  [332.0,5.6],[333.2,4.95],[334.5,4.95],[336.1,5.35],[337.5,7.3],[338.7,5.5],[340.3,5.35],[341.6,5.4],[343.2,4.25],[344.5,4.35],[345.5,5.4],[346.4,4.25],[348.3,3.8],
  [350.3,4.5],[351.6,4.35],[353.2,3.9],[354.4,4.05],[356.4,3.7],[357.7,5.15],[358.6,4.5],[359.9,4.6],[361.2,4.95],[362.5,4.7],[364,4.8]
];

const biasB = [
  [0.3,-0.45],[1.3,-0.2],[2.3,-0.45],[3.4,-0.65],[4.5,0.27],[5.5,0.35],[6.4,0.27],[7.4,-0.1],[8.4,-1.6],[9.3,-1.8],[10.3,-0.65],[11.6,0.1],[12.7,0.2],[13.7,0.1],
  [14.6,-0.7],[16.1,-0.9],[17.1,-0.8],[18.5,-1.15],[19.6,-0.8],[20.6,-0.65],[21.6,-1.15],[22.8,-0.8],[24.1,-0.45],[25.4,0.2],[26.4,0.1],[27.3,-0.55],[28.6,-0.45],
  [29.9,-0.1],[30.9,-0.65],[31.9,-0.1],[33.3,0.35],[34.4,-0.2],[35.7,-0.45],[36.9,-1.1],[38.0,-1.0],[39.4,0.2],[40.7,0.0],[42.1,-0.1],[43.6,-0.45],[45.4,0.27],
  [46.7,-0.1],[48.3,-0.27],[49.6,-0.45],[50.6,-0.2],[51.8,-0.27],[53.4,0.7],[54.7,0.1],[56.0,-0.1],[57.3,-0.45],[58.6,0.27],[59.5,0.45],[60.5,-0.1],[61.5,-0.65],
  [62.7,-0.7],[64.0,-0.65],[65.3,-0.35],[67.2,-0.35],[68.9,0.1],[70.1,-0.2],[71.4,0.1],[72.7,0.0],[74.0,0.2],[75.3,0.35],[76.6,-0.1],[78.5,1.0],[79.8,0.27],
  [81.4,-1.0],[83.7,-1.1],[85.3,-0.27],[86.6,0.2],[87.8,-0.1],[89.1,-0.27],[90.4,0.0],[91.7,-0.45],[93.0,-0.55],[94.3,-0.8],[94.7,-0.9],[96.5,0.0],[97.7,-0.2],
  [99.0,-0.35],[99.7,-0.35],[101,null],
  [102.6,-0.45],[104.5,0.45],[106.1,0.2],[107.0,-0.27],[107.7,-0.1],[109.0,-0.65],[110.3,-0.7],[112.5,-0.1],[113.5,-1.1],[114.7,-1.0],[116.3,0.35],[117.9,0.1],
  [119.9,-0.1],[121.8,0.27],[123.4,-0.65],[124.7,-0.35],[126.6,-0.65],[128.5,-0.45],[130.5,-0.27],[132.7,-0.65],[134.0,-0.55],[135.9,0.1],[137.8,-0.45],[139.1,-1.0],
  [141.0,-0.1],[142.6,0.8],[144.6,0.8],[146.2,0.27],[147.5,-0.7],[148.4,-0.1],[149.4,-0.55],[151.6,-0.1],[153.9,0.7],[155.5,0.2],[156.8,1.35],[158.4,1.0],[159.6,1.7],
  [161.4,3.25],[163.5,1.35],[166.4,1.2],[167.7,1.9],[168.9,1.45],[171.2,1.25],[173.4,1.0],[175.0,1.7],[176.6,1.7],[178.2,1.2],[179.5,1.25],[181.4,1.55],[183.4,2.1],
  [185.6,1.0],[187.6,2.9],[188.5,2.7],[189.5,1.35],[190.8,1.2],[191.7,0.8],[192.7,0.9],[193.7,1.8],[194.8,1.55],[196.2,1.2],[197.5,2.35],[198.5,2.55],[199.4,3.25],
  [200.4,3.0],[201.4,1.8],[202.7,1.7],[203.6,2.35],[204.6,1.9],[206.5,2.1],[207.5,0.8],[208.4,0.45],[209.4,1.45],[210.7,1.35],[211.7,0.9],[213.5,3.95],[215.5,3.05],
  [217.1,1.8],[218.4,1.9],[219.7,1.8],[220.6,1.45],[221.6,1.25],[222.6,0.65],[224.5,2.45],[225.8,1.8],[227.1,1.7],[228.4,1.35],[229.3,1.55],[230.3,2.35],[231.6,2.6],
  [232.9,2.1],[234.1,1.6],[235.4,1.1],[236.7,1.45],[238.0,1.6],[239.3,1.7],[240.6,3.15],[242.5,2.0],[244.4,1.9],[245.7,1.55],[247.6,1.45],[248.6,1.0],[249.6,1.45],
  [250.9,1.25],[251.8,1.1],[253.4,2.55],[255.4,1.35],[256.3,2.0],[257.6,1.0],[259.5,2.55],[260.8,1.45],[262.4,0.55],[264.0,1.1],[265.3,1.35],[266.6,1.9],[267.9,2.15],
  [268.9,2.0],[270.5,0.8],[272.1,1.7],[273.7,2.9],[274.6,1.7],[275.4,1.55],[276.7,0.7],[277.7,0.7],[278.6,1.45],[279.6,1.55],[280.5,2.0],[281.5,1.8],[282.5,1.45],
  [283.4,0.9],[284.7,1.7],[286.0,1.9],[286.6,2.1],[287.6,1.6],[288.6,2.1],[289.5,2.25],[290.5,1.35],[291.5,1.25],[292.4,1.2],[293.7,1.35],[294.7,1.55],[295.5,2.0],
  [296.6,1.0],[298.2,0.9],[299.5,0.8],[300.8,0.55],[301.8,0.45],[302.7,0.65],[303.7,0.45],[305.3,0.55],[306.4,1.05],[307.5,0.45],[308.5,0.45],[309.7,1.1],[311.1,0.27],
  [312.0,-0.1],[313.3,-0.45],[314.6,-0.55],[315.6,-0.7],[317.2,-0.55],[318.8,-0.27],[320.4,-0.1],[321.4,-0.7],[323.3,0.0],[324.6,-1.25],[325.9,-1.15],[327.1,-1.0],
  [328.4,-0.7],[329.6,-0.45],[330.7,-1.0],[332.0,-0.8],[333.2,-0.7],[334.2,-0.65],[335.5,-0.2],[336.5,-0.8],[338.1,-0.7],[339.7,-1.15],[340.6,-1.3],[342.6,-1.1],
  [343.5,-0.55],[345.1,-0.55],[346.1,-0.2],[347.4,0.1],[348.3,-0.2],[349.6,-0.27],[351.2,-0.65],[352.5,-0.2],[353.5,-0.27],[354.8,-0.45],[356.1,0.0],[357.3,0.2],
  [358.6,-0.9],[359.6,-1.55],[360.6,-1.45],[361.5,-1.1],[362.5,-1.05],[364,-1.0]
];

const BLUE = '#1f77b4';
const ORANGE = '#ff7f0e';
const FONT = 'DejaVu Sans';

// 灰色带：上沿 + 反向下沿 围成多边形
function renderBand(params, api) {
    let points = [];
    for (let i = 0; i < bandHighB.length; i++) {
        points.push(api.coord(bandHighB[i]));
    }
    for (let i = bandLowB.length - 1; i >= 0; i--) {
        points.push(api.coord(bandLowB[i]));
    }
    return {
        type: 'polygon',
        shape: { points: points },
        style: { fill: '#dcdcdc', stroke: null }
    };
}

const gridLine = { show: true, lineStyle: { color: '#b0b0b0', width: 1.4, type: [5, 4] } };
const vGridLine = { show: true, lineStyle: { color: '#b0b0b0', width: 1.4, type: [2, 3] } };
const tickStyle = { show: true, inside: false, length: 11, lineStyle: { color: '#000', width: 2 } };
const labelFont = { fontFamily: FONT, fontSize: 36, color: '#000' };
const yName = 'Sea ice drift speed [km d\u207B\u00B9]';
const yNameStyle = { fontFamily: FONT, fontSize: 50, color: '#000' };
// 图例里只画线，不画圆点
const noDot = { opacity: 0, color: 'rgba(0,0,0,0)', borderWidth: 0 };
const legendBase = {
    orient: 'vertical', left: 178,
    itemWidth: 71, itemHeight: 14,
    backgroundColor: 'rgba(255,255,255,0.8)', borderColor: '#cccccc', borderWidth: 2, borderRadius: 8,
    textStyle: { fontFamily: FONT, fontSize: 33, color: '#000', padding: [0, 0, 0, 21], lineHeight: 33 },
    selectedMode: false
};

const chart = echarts.init(document.getElementById('chart'), null, { renderer: 'canvas' });

chart.setOption({
    animation: false,
    backgroundColor: '#fff',
    title: [
        { text: '(a)', left: 143, top: 13, textStyle: { fontFamily: FONT, fontSize: 44, fontWeight: 'normal', color: '#000' } },
        { text: '(b)', left: 143, top: 903, textStyle: { fontFamily: FONT, fontSize: 44, fontWeight: 'normal', color: '#000' } }
    ],
    legend: [
        Object.assign({}, legendBase, {
            top: 98, padding: [10, 14, 16, 12], itemGap: 16,
            data: [
                { name: 'OPA-nex', lineStyle: { width: 5.5, color: BLUE }, itemStyle: noDot },
                { name: 'OSI-SAF low-resolution', lineStyle: { width: 5.5, color: ORANGE }, itemStyle: noDot }
            ]
        }),
        Object.assign({}, legendBase, {
            top: 987, padding: [11, 14, 12, 12], itemGap: 17,
            data: [
                { name: 'OPA-nex', lineStyle: { width: 5.5, color: BLUE }, itemStyle: noDot },
                { name: 'Bias', lineStyle: { width: 2, color: '#000' }, itemStyle: noDot },
                { name: 'RMSE', lineStyle: { width: 2.8, color: '#000', type: [10, 5] }, itemStyle: noDot },
                { name: 'OSI-SAF low-resolution', lineStyle: { width: 5.5, color: ORANGE }, itemStyle: noDot }
            ]
        })
    ],
    grid: [
        { left: 161, top: 82, width: 1885, height: 742, show: true, z: 10, borderColor: '#000', borderWidth: 3, backgroundColor: 'transparent' },
        { left: 161, top: 972, width: 1885, height: 742, show: true, z: 10, borderColor: '#ff0000', borderWidth: 5, backgroundColor: 'transparent' }
    ],
    xAxis: [
        {
            type: 'value', gridIndex: 0, min: 2013, max: 2018.997,
            axisLine: { show: true, onZero: false, lineStyle: { color: '#000', width: 3 } },
            axisTick: Object.assign({}, tickStyle, { customValues: yearTicks }),
            axisLabel: Object.assign({}, labelFont, { margin: 14, customValues: yearTicks, formatter: (v) => String(v) }),
            splitLine: vGridLine
        },
        {
            type: 'value', gridIndex: 1, min: 0, max: 364,
            axisLine: { show: false, onZero: false },
            axisTick: Object.assign({}, tickStyle, { customValues: monthTickDays }),
            axisLabel: Object.assign({}, labelFont, {
                margin: 16, customValues: monthTickDays,
                formatter: (v) => monthTickLabels[monthTickDays.indexOf(v)] || ''
            }),
            splitLine: vGridLine
        }
    ],
    yAxis: [
        {
            type: 'value', gridIndex: 0, min: 2.5, max: 14,
            name: yName, nameLocation: 'middle', nameGap: 84, nameRotate: 90, nameTextStyle: yNameStyle,
            axisLine: { show: true, onZero: false, lineStyle: { color: '#000', width: 3 } },
            axisTick: Object.assign({}, tickStyle, { customValues: speedTicksA }),
            axisLabel: Object.assign({}, labelFont, { margin: 22, customValues: speedTicksA }),
            splitLine: gridLine
        },
        {
            type: 'value', gridIndex: 1, min: -4.3, max: 23,
            name: yName, nameLocation: 'middle', nameGap: 84, nameRotate: 90, nameTextStyle: yNameStyle,
            axisLine: { show: false, onZero: false },
            axisTick: Object.assign({}, tickStyle, { customValues: speedTicksB }),
            axisLabel: Object.assign({}, labelFont, { margin: 22, customValues: speedTicksB }),
            splitLine: gridLine
        }
    ],
    series: [
        {
            name: 'OPA-nex', type: 'line', xAxisIndex: 0, yAxisIndex: 0,
            data: opaA, symbol: 'none', z: 3,
            lineStyle: { color: BLUE, width: 5.5, join: 'round', cap: 'round' },
            itemStyle: { color: BLUE },
            markArea: {
                silent: true,
                label: { show: false },
                itemStyle: { color: 'rgba(0,0,0,0)', borderColor: '#ff0000', borderWidth: 5 },
                data: [[{ coord: [zoomYears[0], zoomSpeeds[0]] }, { coord: [zoomYears[1], zoomSpeeds[1]] }]]
            }
        },
        {
            name: 'OSI-SAF low-resolution', type: 'line', xAxisIndex: 0, yAxisIndex: 0,
            data: osiA, symbol: 'none', z: 4, connectNulls: false,
            lineStyle: { color: ORANGE, width: 5.5, join: 'round', cap: 'round' },
            itemStyle: { color: ORANGE }
        },
        {
            name: 'band', type: 'custom', xAxisIndex: 1, yAxisIndex: 1,
            renderItem: renderBand, data: [[0, 0]], silent: true, z: 1
        },
        {
            name: 'OPA-nex', type: 'line', xAxisIndex: 1, yAxisIndex: 1,
            data: opaB, symbol: 'none', z: 3,
            lineStyle: { color: BLUE, width: 5, join: 'round' },
            itemStyle: { color: BLUE }
        },
        {
            name: 'Bias', type: 'line', xAxisIndex: 1, yAxisIndex: 1,
            data: biasB, symbol: 'none', z: 3, connectNulls: false,
            lineStyle: { color: '#000', width: 2 },
            itemStyle: { color: '#000' }
        },
        {
            name: 'RMSE', type: 'line', xAxisIndex: 1, yAxisIndex: 1,
            data: rmseB, symbol: 'none', z: 3, connectNulls: false,
            lineStyle: { color: '#000', width: 2.8, type: [10, 5] },
            itemStyle: { color: '#000' }
        },
        {
            name: 'OSI-SAF low-resolution', type: 'line', xAxisIndex: 1, yAxisIndex: 1,
            data: osiB, symbol: 'none', z: 4,
            lineStyle: { color: ORANGE, width: 5, join: 'round' },
            itemStyle: { color: ORANGE }
        }
    ]
});
</script>
</body>
</html>
